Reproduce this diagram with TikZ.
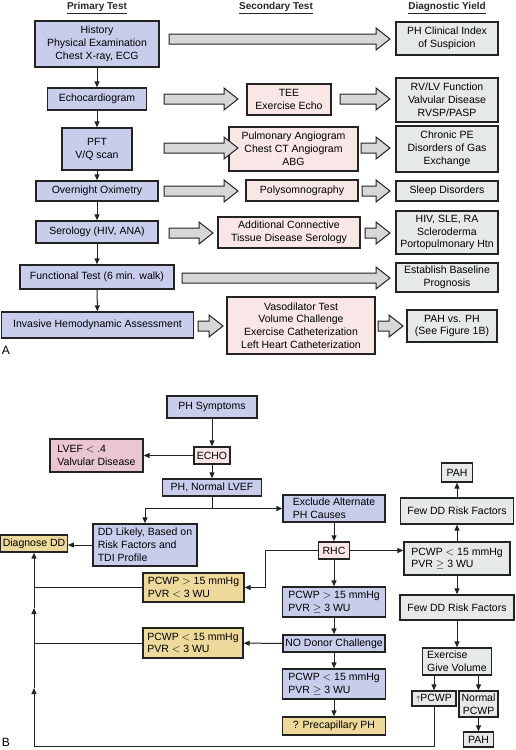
\documentclass[tikz,border=0pt]{standalone}
\usepackage{fontspec}
\setmainfont{Liberation Sans}
\usetikzlibrary{arrows.meta,calc}
\definecolor{blueF}{RGB}{201,205,236}
\definecolor{pinkF}{RGB}{248,231,230}
\definecolor{lvefF}{RGB}{234,199,208}
\definecolor{grayF}{RGB}{230,233,233}
\definecolor{yelF}{RGB}{237,217,153}
\definecolor{fatF}{RGB}{215,215,215}
\definecolor{bord}{RGB}{35,35,35}
\newcommand\fatarr[3]{\draw[fat] (#1,#3-5) -- ({#2-14},#3-5) -- ({#2-14},#3-11) -- (#2,#3) -- ({#2-14},#3+11) -- ({#2-14},#3+5) -- (#1,#3+5) -- cycle;}
\begin{document}
\begin{tikzpicture}[x=1pt,y=-1pt,
 box/.style={draw=bord, line width=1.3pt, inner sep=2pt, align=center, text=black, font=\fontsize{10.5}{12.8}\selectfont},
 bl/.style={box, fill=blueF},
 pk/.style={box, fill=pinkF},
 lv/.style={box, fill=lvefF},
 gy/.style={box, fill=grayF},
 yl/.style={box, fill=yelF},
 sz/.style 2 args={minimum width=#1, minimum height=#2},
 lft/.style={align=left},
 hdr/.style={font=\bfseries\fontsize{10}{12}\selectfont, text=black!85},
 lbl/.style={font=\fontsize{12}{14}\selectfont},
 ln/.style={line width=1pt, draw=bord},
 arr/.style={line width=1pt, draw=bord, -{Triangle[length=6pt,width=5pt]}},
 fat/.style={draw=bord, line width=1pt, fill=fatF, line join=miter}
]
\useasboundingbox (0,0) rectangle (515,750);
% ---------- Part A ----------
\node[hdr] (h1) at (97,8) {\underline{Primary Test}};
\node[hdr] (h2) at (276,8) {\underline{Secondary Test}};
\node[hdr] (h3) at (447,8) {\underline{Diagnostic Yield}};

\node[bl, sz={124}{46}] (hist) at (97,44) {History\\Physical Examination\\Chest X-ray, ECG};
\node[bl, sz={99}{22}] (echo) at (97,99) {Echocardiogram};
\node[bl, sz={70}{42}] (pft) at (97,149) {PFT\\V/Q scan};
\node[bl, sz={122}{20}] (oxi) at (97,191) {Overnight Oximetry};
\node[bl, sz={122}{22}] (sero) at (97,232) {Serology (HIV, ANA)};
\node[bl, sz={154}{24}] (func) at (97,277) {Functional Test (6 min. walk)};
\node[bl, sz={192}{26}] (inv) at (97.5,325) {Invasive Hemodynamic Assessment};

\node[pk, sz={84}{31}] (tee) at (289,99.5) {TEE\\Exercise Echo};
\node[pk, sz={129}{44}] (pa) at (293.5,149) {Pulmonary Angiogram\\Chest CT Angiogram\\ABG};
\node[pk, sz={112}{21}] (poly) at (302,190.5) {Polysomnography};
\node[pk, sz={142}{31}] (conn) at (289,232.5) {Additional Connective\\Tissue Disease Serology};
\node[pk, sz={148}{57}] (vaso) at (301,325.5) {Vasodilator Test\\Volume Challenge\\Exercise Catheterization\\Left Heart Catheterization};

\node[gy, sz={102}{33}] (phci) at (447,38.5) {PH Clinical Index\\of Suspicion};
\node[gy, sz={102}{44}] (rvlv) at (447,100) {RV/LV Function\\Valvular Disease\\RVSP/PASP};
\node[gy, sz={102}{46}] (cpe) at (447,149) {Chronic PE\\Disorders of Gas\\Exchange};
\node[gy, sz={102}{20}] (sleep) at (447,191) {Sleep Disorders};
\node[gy, sz={102}{43}] (hiv) at (447,232.5) {HIV, SLE, RA\\Scleroderma\\Portopulmonary Htn};
\node[gy, sz={102}{29}] (base) at (447,277.5) {Establish Baseline\\Prognosis};
\node[gy, sz={90}{32}] (pahph) at (452,326) {PAH vs. PH\\(See Figure 1B)};

\draw[arr] (hist) -- (echo);
\draw[arr] (echo) -- (pft);
\draw[arr] (pft) -- (oxi);
\draw[arr] (oxi) -- (sero);
\draw[arr] (sero) -- (func);
\draw[arr] (func) -- (inv);

\fatarr{169}{390}{39}
\fatarr{164}{238}{99}
\fatarr{164}{238}{148}
\fatarr{164}{238}{191}
\fatarr{169}{213}{233}
\fatarr{182}{390}{278}
\fatarr{198}{223}{326}
\fatarr{340}{390}{99}
\fatarr{361}{390}{148}
\fatarr{362}{390}{191}
\fatarr{365}{390}{233}
\fatarr{378}{403}{326}

\node[lbl] (la) at (6,350) {A};

% ---------- Part B ----------
\node[bl, sz={90}{22}] (phs) at (212,407) {PH Symptoms};
\node[pk, sz={36}{17}] (echob) at (212,455.5) {ECHO};
\node[lv, sz={93}{33}, lft] (lvef) at (96.5,455.5) {LVEF $<$ .4\\Valvular Disease};
\node[bl, sz={99}{17}] (phn) at (212,487.5) {PH, Normal LVEF};
\node[bl, sz={104}{42}, lft] (ddl) at (145,545) {DD Likely, Based on\\Risk Factors and\\TDI Profile};
\node[yl, sz={66}{17}] (diag) at (34,543.5) {Diagnose DD};
\node[bl, sz={102}{27}, lft] (excl) at (334,508.5) {Exclude Alternate\\PH Causes\hphantom{rnate}};
\node[pk, sz={31}{17}] (rhc) at (334,550.5) {RHC};
\node[gy, sz={106}{33}, lft] (pcl) at (457,558.5) {PCWP $<$ 15 mmHg\\PVR $\geq$ 3 WU};
\node[gy, sz={113}{26}] (few1) at (457,511) {Few DD Risk Factors};
\node[gy, sz={31}{19}] (pah1) at (457,472.5) {PAH};
\node[yl, sz={101}{29}, lft] (y1) at (193.5,587.5) {PCWP $>$ 15 mmHg\\PVR $<$ 3 WU};
\node[yl, sz={100}{30}, lft] (y2) at (193,643) {PCWP $<$ 15 mmHg\\PVR $<$ 3 WU};
\node[bl, sz={103}{30}, lft] (b1) at (334,602) {PCWP $>$ 15 mmHg\\PVR $\geq$ 3 WU};
\node[bl, sz={102}{17}] (nod) at (334,643.5) {NO Donor Challenge};
\node[bl, sz={103}{30}, lft] (b2) at (334,684) {PCWP $<$ 15 mmHg\\PVR $\geq$ 3 WU};
\node[yl, sz={103}{18}] (pre) at (334,726) {? Precapillary PH};
\node[gy, sz={114}{25}] (few2) at (457,607.5) {Few DD Risk Factors};
\node[gy, sz={69}{27}, lft] (exer) at (457,661.5) {Exercise\\Give Volume};
\node[gy, sz={44}{15}, inner sep=1pt] (upc) at (434,698.5) {{\fontsize{8}{8}\selectfont$\uparrow$}PCWP};
\node[gy, sz={39}{26}, inner sep=1pt] (npc) at (478.5,704) {Normal\\PCWP};
\node[gy, sz={30}{15}, inner sep=1pt] (pah2) at (478.5,739.5) {PAH};

\coordinate (j) at (212,508.5);
\coordinate (rk) at (265,550.5);
\coordinate (L0) at (34,746);
\coordinate (L1) at (34,688);
\coordinate (L2) at (34,608);

\draw[arr] (phs) -- (echob);
\draw[arr] (echob) -- (lvef);
\draw[arr] (echob) -- (phn);
\draw[ln] (phn) -- (j);
\draw[arr] (j) -| (ddl.north);
\draw[arr] (j) -- (excl.west);
\draw[arr] (ddl.west) -- (ddl.west -| diag.east);
\draw[arr] (excl) -- (rhc);
\draw[arr] (rhc.east) -- (rhc.east -| pcl.west);
\draw[arr] (rhc.west) -- (rk) |- (y1.east);
\draw[arr] (rhc) -- (b1);
\draw[arr] (b1) -- (nod);
\draw[arr] (nod) -- (y2);
\draw[arr] (nod) -- (b2);
\draw[arr] (b2) -- (pre);
\draw[arr] (pcl) -- (few1);
\draw[arr] (few1) -- (pah1);
\draw[arr] (pcl) -- (few2);
\draw[arr] (few2) -- (exer);
\draw[arr] (exer.south -| upc.north) -- (upc.north);
\draw[arr] (exer.south -| npc.north) -- (npc.north);
\draw[arr] (npc) -- (pah2);
\draw[ln] (upc.south) |- (L0);
\draw[arr] (L0) -- (L1);
\draw[arr] (L1) -- (L2);
\draw[arr] (L2) -- (diag.south);
\draw[ln] (y1.west) -- (y1.west -| L0);
\draw[ln] (y2.west) -- (y2.west -| L0);

\node[lbl] (lb) at (6,742) {B};
\end{tikzpicture}
\end{document}
